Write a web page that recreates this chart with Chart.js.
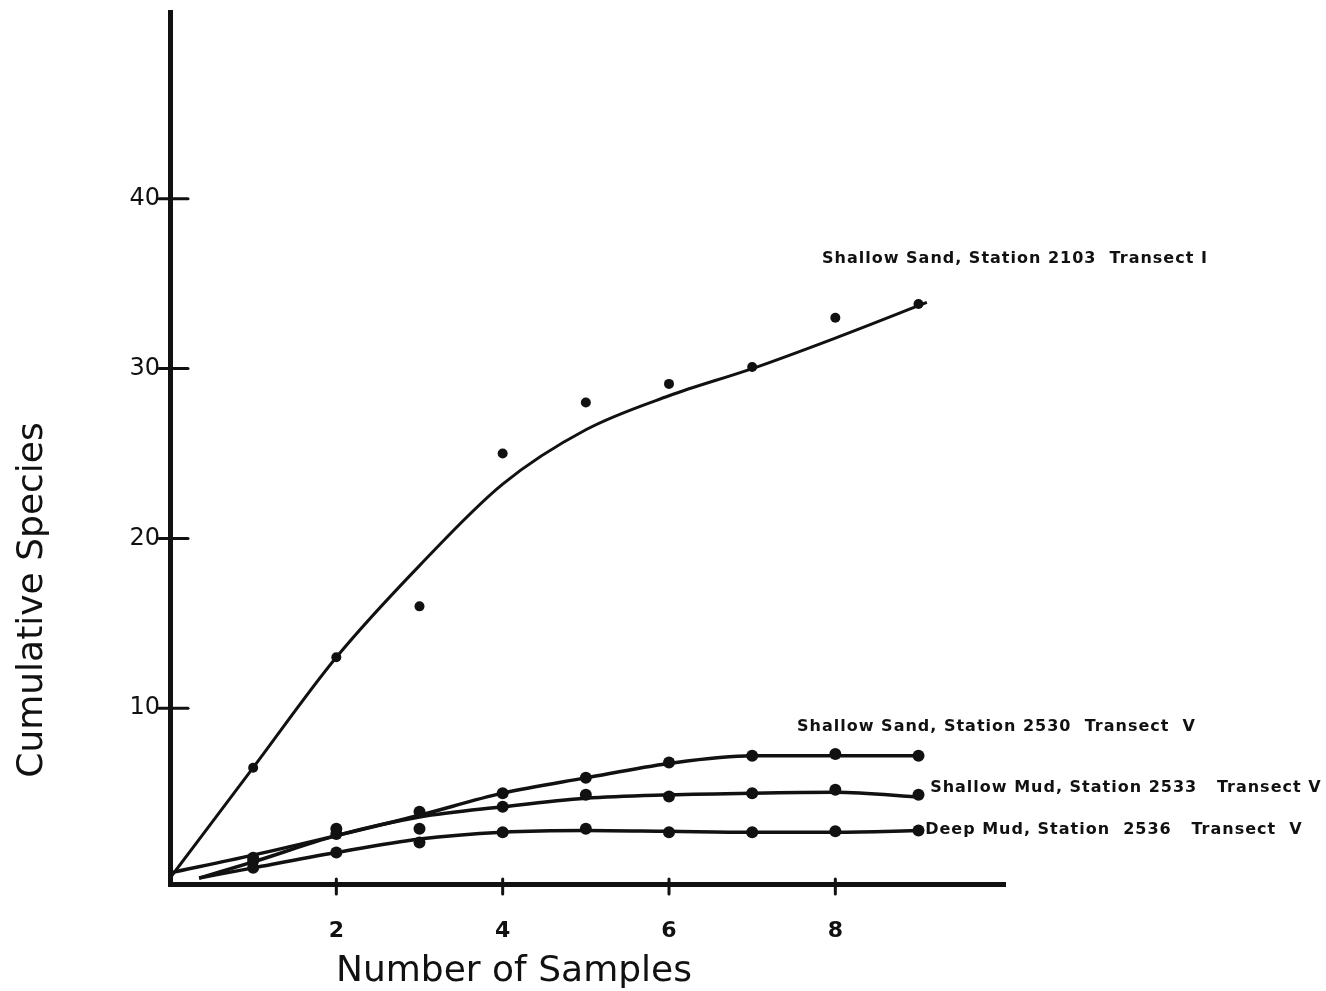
<!DOCTYPE html>
<html>
<head>
<meta charset="utf-8">
<script src="https://cdn.jsdelivr.net/npm/chart.js@4.4.0/dist/chart.umd.min.js"></script>
<style>
  html, body { margin: 0; padding: 0; background: #fff; }
  canvas { display: block; }
</style>
</head>
<body>
<canvas id="chart" width="1326" height="991"></canvas>
<script>
// observed cumulative species counts, one per sample
const samples = [1, 2, 3, 4, 5, 6, 7, 8, 9];
const sand2103 = [6.5, 13, 16, 25, 28, 29.1, 30.1, 33, 33.8];
const sand2530 = [1.2, 2.9, 3.9, 5.0, 5.9, 6.8, 7.2, 7.3, 7.2];
const mud2533 = [1.0, 2.6, 2.9, 4.2, 4.9, 4.8, 5.0, 5.2, 4.9];
const deep2536 = [0.6, 1.5, 2.1, 2.7, 2.9, 2.7, 2.7, 2.75, 2.8];

// hand drawn fitted curves
const sand2103CurveX = [0, 1, 2, 3, 4, 5, 6, 7, 8, 9.1];
const sand2103Curve = [0, 6.5, 13, 18.4, 23.2, 26.4, 28.4, 30.0, 31.8, 33.9];
const sand2530CurveX = [0, 1, 2, 3, 4, 5, 6, 7, 8, 9.05];
const sand2530Curve = [0.3, 1.35, 2.5, 3.7, 5.0, 5.9, 6.75, 7.2, 7.2, 7.2];
const mudCurveX = [0.35, 1, 2, 3, 4, 5, 6, 7, 8, 9.05];
const mud2533Curve = [0, 0.95, 2.5, 3.6, 4.2, 4.7, 4.9, 5.0, 5.05, 4.75];
const deep2536Curve = [0, 0.6, 1.5, 2.3, 2.7, 2.8, 2.75, 2.7, 2.7, 2.8];

const curveLabels = [
  'Shallow Sand, Station 2103  Transect I',
  'Shallow Sand, Station 2530  Transect  V',
  'Shallow Mud, Station 2533   Transect V',
  'Deep Mud, Station  2536   Transect  V'
];
const xTicks = [2, 4, 6, 8];
const yTicks = [10, 20, 30, 40];
const xTitle = 'Number of Samples';
const yTitle = 'Cumulative Species';

const INK = '#111';
const FONT = "'DejaVu Sans', sans-serif";

const zip = (xs, ys) => xs.map((x, i) => ({ x: x, y: ys[i] }));

const curve = (xs, ys, w) => ({
  data: zip(xs, ys),
  borderColor: INK,
  borderWidth: w,
  pointRadius: 0,
  cubicInterpolationMode: 'monotone',
  fill: false
});
const dots = (ys, r) => ({
  data: zip(samples, ys),
  showLine: false,
  pointRadius: r,
  pointBackgroundColor: INK,
  pointBorderWidth: 0
});

// where each curve name sits, in data units (left edge, middle)
const labelAt = [[7.84, 36.45], [7.54, 8.9], [9.14, 5.3], [9.08, 2.83]];

const decorations = {
  id: 'decorations',
  afterDraw(chart) {
    const { ctx, scales: { x, y } } = chart;
    const x0 = x.getPixelForValue(0);
    const y0 = y.bottom;
    ctx.save();
    ctx.strokeStyle = INK;
    ctx.lineWidth = 3;
    ctx.lineCap = 'round';
    yTicks.forEach(v => {
      const py = y.getPixelForValue(v);
      ctx.beginPath();
      ctx.moveTo(x0 - 11, py);
      ctx.lineTo(x0 + 18, py);
      ctx.stroke();
    });
    xTicks.forEach(v => {
      const px = x.getPixelForValue(v);
      ctx.beginPath();
      ctx.moveTo(px, y0 - 5);
      ctx.lineTo(px, y0 + 10);
      ctx.stroke();
    });

    ctx.fillStyle = INK;
    ctx.font = 'bold 16px ' + FONT;
    ctx.letterSpacing = '1px';
    ctx.textAlign = 'left';
    ctx.textBaseline = 'middle';
    curveLabels.forEach((t, i) => {
      ctx.fillText(t, x.getPixelForValue(labelAt[i][0]), y.getPixelForValue(labelAt[i][1]));
    });

    ctx.letterSpacing = '0px';
    ctx.font = '36px ' + FONT;
    ctx.textAlign = 'center';
    ctx.textBaseline = 'alphabetic';
    ctx.fillText(xTitle, 514, 981);
    ctx.translate(33, 600);
    ctx.rotate(-Math.PI / 2);
    ctx.textBaseline = 'middle';
    ctx.fillText(yTitle, 0, 0);
    ctx.restore();
  }
};

new Chart(document.getElementById('chart'), {
  type: 'line',
  data: {
    datasets: [
      curve(sand2103CurveX, sand2103Curve, 3),
      dots(sand2103, 5),
      curve(sand2530CurveX, sand2530Curve, 3.5),
      dots(sand2530, 6),
      curve(mudCurveX, mud2533Curve, 3.5),
      dots(mud2533, 6),
      curve(mudCurveX, deep2536Curve, 3.5),
      dots(deep2536, 6)
    ]
  },
  options: {
    responsive: false,
    devicePixelRatio: 1,
    animation: false,
    layout: { padding: { top: 12, right: 321, left: 0, bottom: 0 } },
    plugins: { legend: { display: false }, tooltip: { enabled: false } },
    scales: {
      x: {
        type: 'linear',
        min: 0,
        max: 10.04,
        afterBuildTicks: s => { s.ticks = xTicks.map(v => ({ value: v })); },
        afterFit: s => { s.height = 107; s.paddingLeft = 0; s.paddingRight = 0; },
        grid: { display: false, drawTicks: false },
        border: { display: true, width: 5, color: INK },
        ticks: { color: INK, font: { family: FONT, size: 22, weight: 'bold' }, padding: 34, maxRotation: 0, autoSkip: false }
      },
      y: {
        type: 'linear',
        min: -0.35,
        max: 51,
        afterBuildTicks: s => { s.ticks = yTicks.map(v => ({ value: v })); },
        afterFit: s => { s.width = 170; s.paddingTop = 0; s.paddingBottom = 0; },
        grid: { display: false, drawTicks: false },
        border: { display: true, width: 5, color: INK },
        ticks: { color: INK, font: { family: FONT, size: 24 }, padding: 10 }
      }
    }
  },
  plugins: [decorations]
});
</script>
</body>
</html>
